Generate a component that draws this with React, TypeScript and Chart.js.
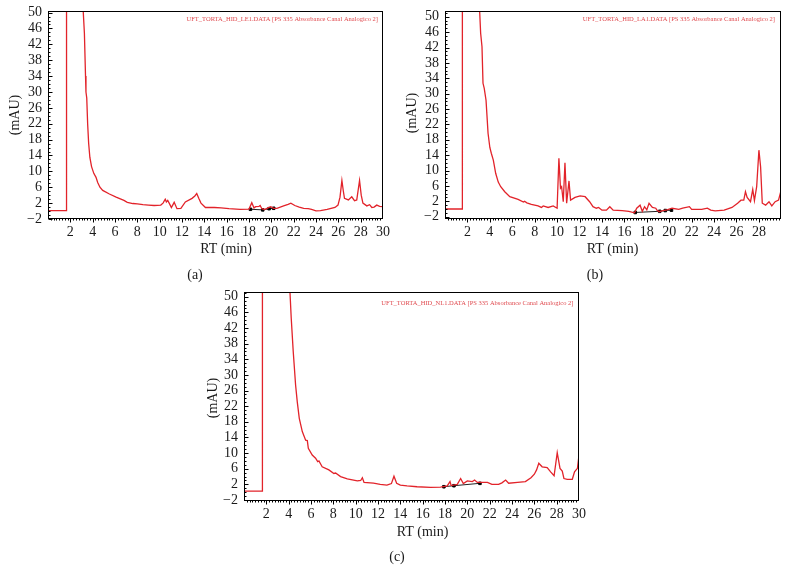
import React, { useEffect, useRef } from "react";
import { Chart, registerables } from "chart.js";

Chart.register(...registerables);

// ---------- tick labels ----------
const X_TICKS = [2, 4, 6, 8, 10, 12, 14, 16, 18, 20, 22, 24, 26, 28, 30];
const Y_TICKS = [-2, 2, 6, 10, 14, 18, 22, 26, 30, 34, 38, 42, 46, 50];

// ---------- panel (a) ----------
const rtA = [0, 1.65, 1.66, 3.1, 3.16, 3.26, 3.36, 3.4, 3.47, 3.55, 3.64, 3.75, 3.9, 4.1, 4.3, 4.45, 4.65, 4.9, 5.5, 6.1, 6.8, 7.1, 7.6, 8.0, 8.5, 9.0, 9.5, 10.1, 10.3, 10.5, 10.6, 10.72, 10.85, 11.05, 11.3, 11.55, 11.9, 12.3, 12.9, 13.15, 13.32, 13.5, 13.7, 14.1, 14.9, 15.5, 16.2, 17.2, 18.0, 18.25, 18.45, 18.6, 18.9, 19.0, 19.15, 19.4, 19.7, 19.95, 20.2, 20.5, 21.1, 21.5, 21.75, 22.1, 22.5, 22.9, 23.3, 23.6, 24.0, 24.4, 25.0, 25.7, 25.97, 26.15, 26.32, 26.45, 26.55, 26.9, 27.2, 27.45, 27.65, 27.9, 28.05, 28.2, 28.55, 28.8, 29.0, 29.2, 29.44, 29.7, 30];
const absA = [0.1, 0.1, 60, 60, 50, 44.8, 34, 30, 28.5, 22, 17.1, 13.5, 11.2, 9.5, 8.5, 7.2, 6.0, 5.2, 4.3, 3.5, 2.7, 2.2, 1.9, 1.8, 1.6, 1.5, 1.4, 1.5, 2.0, 3.0, 2.3, 2.7, 2.0, 0.9, 2.2, 0.6, 0.7, 2.3, 3.2, 3.8, 4.4, 3.2, 2.0, 0.9, 0.9, 0.8, 0.6, 0.4, 0.5, 2.1, 0.8, 1.1, 1.2, 1.4, 0.6, 0.4, 0.8, 1.1, 0.7, 0.7, 1.3, 1.7, 2.0, 1.4, 1.0, 0.7, 0.6, 0.4, 0.05, 0.1, 0.4, 0.9, 1.5, 3.5, 7.7, 5.0, 3.2, 2.8, 3.6, 2.6, 2.8, 7.7, 4.0, 2.0, 1.3, 1.6, 0.9, 1.0, 1.5, 1.2, 1.1];
const markRtA = [18.13, 19.23, 19.8, 20.21];
const markAbsA = [0.45, 0.3, 0.6, 0.7];

// ---------- panel (b) ----------
const rtB = [0, 1.54, 1.55, 3.05, 3.09, 3.18, 3.3, 3.39, 3.5, 3.66, 3.84, 4.0, 4.13, 4.31, 4.52, 4.75, 4.97, 5.33, 5.78, 6.52, 7.0, 7.1, 7.3, 7.7, 8.3, 8.6, 8.76, 9.2, 9.65, 10.0, 10.16, 10.3, 10.4, 10.55, 10.7, 10.85, 11.06, 11.2, 11.6, 12.05, 12.5, 12.9, 13.2, 13.5, 13.7, 14.0, 14.4, 14.7, 15.0, 15.8, 16.4, 16.9, 17.1, 17.4, 17.6, 17.8, 18.0, 18.2, 18.5, 18.8, 18.9, 19.1, 19.35, 19.8, 20.25, 20.85, 21.2, 21.8, 22.0, 22.9, 23.4, 23.7, 24.1, 24.9, 25.6, 26.1, 26.4, 26.65, 26.8, 26.95, 27.25, 27.45, 27.6, 27.8, 28.0, 28.15, 28.3, 28.6, 28.9, 29.15, 29.45, 29.75, 30.0];
const absB = [0.0, 0.0, 60, 60, 51.5, 45.7, 42.2, 32.7, 31.4, 28.3, 19.7, 16, 14.5, 12.7, 9.3, 7, 5.8, 4.5, 3.2, 2.5, 1.8, 2.0, 1.6, 1.2, 0.8, 0.4, 0.8, 0.4, 0.8, 0.2, 13.2, 5.4, 5.8, 1.9, 12.0, 1.5, 7.3, 2.3, 3.0, 3.4, 3.2, 1.9, 0.6, 0.2, 0.4, -0.3, -0.3, 0.6, -0.3, -0.4, -0.6, -1.0, 0.2, 1.0, -0.6, 0.6, -0.2, 1.5, 0.4, 0.2, -0.3, -0.7, -0.5, -0.2, 0.2, -0.1, 0.2, 0.6, -0.1, -0.1, 0.2, -0.3, -0.5, -0.3, 0.4, 1.5, 2.3, 2.3, 4.5, 3.0, 1.9, 5.1, 2.2, 5.8, 15.3, 11.0, 1.5, 1.0, 1.9, 0.8, 1.9, 2.3, 5.1];
const markRtB = [16.97, 19.15, 19.65, 20.2];
const markAbsB = [-0.9, -0.6, -0.4, -0.3];

// ---------- panel (c) ----------
const rtC = [0, 1.64, 1.65, 4.08, 4.12, 4.23, 4.41, 4.62, 4.77, 4.95, 5.22, 5.52, 5.67, 5.76, 6.11, 6.41, 6.6, 6.71, 7.0, 7.6, 8.05, 8.2, 8.65, 9.25, 10.15, 10.45, 10.6, 10.75, 11.6, 12.2, 12.8, 13.2, 13.43, 13.67, 14.0, 14.6, 15.5, 16.7, 17.6, 18.2, 18.45, 18.55, 19.1, 19.4, 19.64, 20.0, 20.45, 20.65, 20.9, 21.3, 21.8, 22.2, 22.8, 23.1, 23.43, 23.7, 24.5, 25.2, 25.7, 26.0, 26.2, 26.4, 26.7, 27.15, 27.46, 27.77, 28.05, 28.3, 28.5, 28.65, 28.95, 29.4, 29.6, 29.86, 30.0];
const absC = [0.3, 0.3, 60, 60, 51, 44.5, 35.9, 27.4, 23.1, 18.9, 15.5, 13.3, 13.2, 11.2, 9.5, 8.7, 7.8, 8.0, 6.5, 5.7, 4.8, 4.9, 4.0, 3.4, 2.9, 3.0, 3.7, 2.5, 2.3, 2.0, 1.8, 2.2, 4.1, 2.3, 1.8, 1.6, 1.4, 1.25, 1.3, 1.6, 2.7, 1.7, 2.0, 3.5, 2.2, 2.9, 2.7, 3.1, 2.5, 2.5, 2.5, 2.0, 2.0, 2.4, 3.1, 2.3, 2.5, 2.7, 3.7, 4.6, 5.7, 7.4, 6.5, 6.3, 5.2, 4.2, 10.1, 6.1, 5.4, 3.5, 3.3, 3.3, 5.2, 6.1, 9.5];
const markRtC = [17.9, 18.8, 21.13];
const markAbsC = [1.4, 1.66, 2.27];

const FILE_A = "UFT_TORTA_HID_LE1.DATA [PS 335 Absorbance Canal Analogico 2]";
const FILE_B = "UFT_TORTA_HID_LA1.DATA [PS 335 Absorbance Canal Analogico 2]";
const FILE_C = "UFT_TORTA_HID_NL1.DATA [PS 335 Absorbance Canal Analogico 2]";

const SERIF = '"Liberation Serif", "DejaVu Serif", serif';
const RED = "#e2232a";

type Panel = {
  rt: number[];
  abs: number[];
  mRt: number[];
  mAbs: number[];
  file: string;
  caption: string;
  box: { left: number; top: number; w: number; h: number };
  area: { l: number; r: number; t: number; b: number };
  xMax: number;
  yMin: number;
  yMax: number;
  yTitle: [number, number];
  xTitle: [number, number];
  cap: [number, number];
  fileAt: [number, number];
};

const PANELS: Panel[] = [
  {
    rt: rtA, abs: absA, mRt: markRtA, mAbs: markAbsA, file: FILE_A, caption: "(a)",
    box: { left: 0, top: 0, w: 395, h: 290 },
    area: { l: 48, r: 383, t: 11, b: 219 },
    xMax: 30, yMin: -2, yMax: 50.4,
    yTitle: [15, 115], xTitle: [226, 249], cap: [195, 275], fileAt: [378, 19.5],
  },
  {
    rt: rtB, abs: absB, mRt: markRtB, mAbs: markAbsB, file: FILE_B, caption: "(b)",
    box: { left: 395, top: 0, w: 394, h: 290 },
    area: { l: 50, r: 386, t: 11, b: 219 },
    xMax: 29.97, yMin: -2.6, yMax: 51.5,
    yTitle: [17, 113], xTitle: [217.5, 249], cap: [200, 275], fileAt: [380, 19.5],
  },
  {
    rt: rtC, abs: absC, mRt: markRtC, mAbs: markAbsC, file: FILE_C, caption: "(c)",
    box: { left: 200, top: 285, w: 400, h: 297 },
    area: { l: 44, r: 379, t: 7, b: 216 },
    xMax: 30, yMin: -2.25, yMax: 51.2,
    yTitle: [13.3, 113], xTitle: [222.5, 247], cap: [197, 272], fileAt: [373.5, 18.5],
  },
];

function makeDecor(p: Panel) {
  return {
    id: "decor",
    afterDraw(chart: any) {
      const ctx: CanvasRenderingContext2D = chart.ctx;
      const a = chart.chartArea;
      const xs = chart.scales.x;
      const ys = chart.scales.y;
      ctx.save();
      // frame
      ctx.strokeStyle = "#000";
      ctx.lineWidth = 1;
      const L = Math.round(a.left) + 0.5;
      const T = Math.round(a.top) + 0.5;
      const R = Math.round(a.right) - 0.5;
      const B = Math.round(a.bottom) - 0.5;
      ctx.strokeRect(L, T, R - L, B - T);
      // x ticks (outward)
      ctx.beginPath();
      for (let v = 0.25; v < p.xMax; v += 0.25) {
        const px = Math.round(xs.getPixelForValue(v)) + 0.5;
        const major = Math.abs(v / 2 - Math.round(v / 2)) < 1e-6;
        ctx.moveTo(px, B);
        ctx.lineTo(px, B + (major ? 4 : 2));
      }
      // y ticks (inward)
      for (let v = Math.ceil(p.yMin); v <= p.yMax; v += 1) {
        const py = Math.round(ys.getPixelForValue(v)) + 0.5;
        const major = (v + 2) % 4 === 0;
        ctx.moveTo(L, py);
        ctx.lineTo(L + (major ? 4 : 2), py);
      }
      ctx.stroke();

      // titles
      ctx.fillStyle = "#1a1a1a";
      ctx.font = `14px ${SERIF}`;
      ctx.textAlign = "center";
      ctx.textBaseline = "middle";
      ctx.fillText("RT (min)", p.xTitle[0], p.xTitle[1]);
      ctx.fillText(p.caption, p.cap[0], p.cap[1]);
      ctx.save();
      ctx.translate(p.yTitle[0], p.yTitle[1]);
      ctx.rotate(-Math.PI / 2);
      ctx.fillText("(mAU)", 0, 0);
      ctx.restore();

      // file name label
      ctx.fillStyle = "#e04a4f";
      ctx.font = `6.5px ${SERIF}`;
      ctx.textAlign = "right";
      ctx.fillText(p.file, p.fileAt[0], p.fileAt[1]);
      ctx.restore();
    },
  };
}

function ChromPanel({ p }: { p: Panel }) {
  const ref = useRef<HTMLCanvasElement | null>(null);
  useEffect(() => {
    if (!ref.current) return;
    const W = p.box.w;
    const H = p.box.h;
    const font = { family: SERIF, size: 14 };
    const chart = new Chart(ref.current, {
      type: "line",
      data: {
        datasets: [
          {
            data: p.rt.map((x, i) => ({ x, y: p.abs[i] })),
            borderColor: RED,
            borderWidth: 1.3,
            pointRadius: 0,
            tension: 0,
            fill: false,
          },
          {
            data: p.mRt.map((x, i) => ({ x, y: p.mAbs[i] })),
            borderColor: "#222",
            borderWidth: 1,
            pointRadius: 1.8,
            pointStyle: "rect",
            pointBackgroundColor: "#000",
            pointBorderColor: "#000",
            tension: 0,
            fill: false,
          },
        ],
      },
      options: {
        animation: false,
        responsive: false,
        devicePixelRatio: 1,
        events: [],
        layout: { padding: { left: 0, top: p.area.t, right: W - p.area.r, bottom: 0 } },
        plugins: { legend: { display: false }, title: { display: false }, tooltip: { enabled: false } },
        scales: {
          x: {
            type: "linear",
            min: 0,
            max: p.xMax,
            afterBuildTicks: (s: any) => {
              s.ticks = X_TICKS.filter((v) => v <= p.xMax + 1e-9).map((v) => ({ value: v }));
            },
            afterFit: (s: any) => {
              s.height = H - p.area.b;
              s.paddingLeft = 0;
              s.paddingRight = 0;
            },
            grid: { display: false, drawTicks: false },
            border: { display: false },
            ticks: { autoSkip: false, maxRotation: 0, padding: 5, font, color: "#1a1a1a" },
          },
          y: {
            type: "linear",
            min: p.yMin,
            max: p.yMax,
            afterBuildTicks: (s: any) => {
              s.ticks = Y_TICKS.map((v) => ({ value: v }));
            },
            afterFit: (s: any) => {
              s.width = p.area.l;
              s.paddingTop = 0;
              s.paddingBottom = 0;
            },
            grid: { display: false, drawTicks: false },
            border: { display: false },
            ticks: {
              autoSkip: false,
              padding: 6,
              font,
              color: "#1a1a1a",
              callback: (v: any) => (Number(v) < 0 ? "\u2212" + Math.abs(Number(v)) : String(v)),
            },
          },
        },
      } as any,
      plugins: [makeDecor(p)],
    });
    return () => chart.destroy();
  }, [p]);
  return (
    <canvas
      ref={ref}
      width={p.box.w}
      height={p.box.h}
      style={{ position: "absolute", left: p.box.left, top: p.box.top, width: p.box.w, height: p.box.h }}
    />
  );
}

export default function App() {
  return (
    <div style={{ position: "absolute", left: 0, top: 0, width: 789, height: 582, background: "#fff", overflow: "hidden" }}>
      {PANELS.map((p, i) => (
        <ChromPanel key={i} p={p} />
      ))}
    </div>
  );
}
